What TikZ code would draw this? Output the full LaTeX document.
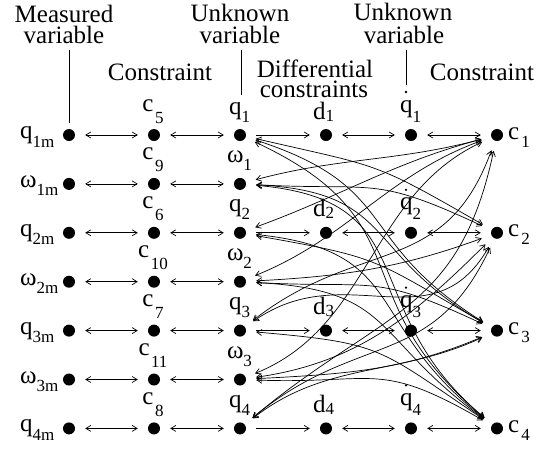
\documentclass[tikz,border=0pt]{standalone}
\usepackage{fontspec}
\setmainfont{Liberation Serif}
\usetikzlibrary{arrows.meta}
\newcommand{\mylab}[4]{#1\hspace{#3}\raisebox{-#2}{\fontsize{17}{17}\selectfont #4}}
\begin{document}
\begin{tikzpicture}[x=1pt,y=1pt,
  >={Straight Barb[length=5pt,width=6pt]},
  dot/.style={circle,fill=black,inner sep=0pt,minimum size=12pt},
  lab/.style={inner sep=0pt,font=\fontsize{25}{25}\selectfont},
  hdr/.style={inner sep=0pt,font=\fontsize{25}{20}\selectfont,anchor=base},
  rule/.style={line width=0.7pt},
  link/.style={line width=0.7pt,<->,shorten <=10pt,shorten >=10pt},
  down/.style={link,looseness=1.35},
  one/.style={line width=0.7pt,->,shorten <=10pt,shorten >=10pt}]
\useasboundingbox (0,0) rectangle (549,-448);

% headers
\node[hdr] (hm1) at (64,-22) {Measured};
\node[hdr] (hm2) at (64,-43) {variable};
\node[hdr] (hu1) at (240,-21) {Unknown};
\node[hdr] (hu2) at (240,-43) {variable};
\node[hdr] (hc1) at (160,-80) {Constraint};
\node[hdr] (hd1) at (315,-77) {Differential};
\node[hdr] (hd2) at (314,-97) {constraints};
\node[hdr] (hv1) at (403,-20) {Unknown};
\node[hdr] (hv2) at (404,-43) {variable};
\node[hdr] (hc2) at (482,-80) {Constraint};

% column 0: measured
\foreach \n/\r in {mq1/0, mw1/1, mq2/2, mw2/3, mq3/4, mw3/5, mq4/6}{
  \pgfmathsetmacro\yy{135+48.9*\r}
  \node[dot] (\n) at (69,-\yy) {};
}
\foreach \n/\r/\t/\s in {mq1/0/q/1m, mw1/1/ω/1m, mq2/2/q/2m, mw2/3/ω/2m, mq3/4/q/3m, mw3/5/ω/3m, mq4/6/q/4m}{
  \pgfmathsetmacro\yy{135+48.9*\r+3.5}
  \node[lab,anchor=base west] (l\n) at (20,-\yy) {\mylab{\t}{8.5pt}{0pt}{\s}};
}
% column 1: constraints c5..c11
\foreach \n/\r/\s in {k5/0/5, k9/1/9, k6/2/6, k10/3/10, k7/4/7, k11/5/11, k8/6/8}{
  \pgfmathsetmacro\yy{135+48.9*\r}
  \pgfmathsetmacro\yl{135+48.9*\r-24}
  \node[dot] (\n) at (154,-\yy) {};
  \node[lab,anchor=base] (l\n) at (153,-\yl) {\mylab{c}{12pt}{1.5pt}{\s}};
}
% column 2: unknown variables
\foreach \n/\r/\t/\s in {q1/0/q/1, w1/1/ω/1, q2/2/q/2, w2/3/ω/2, q3/4/q/3, w3/5/ω/3, q4/6/q/4}{
  \pgfmathsetmacro\yy{135+48.9*\r}
  \pgfmathsetmacro\yl{135+48.9*\r-21}
  \node[dot] (\n) at (240,-\yy) {};
  \node[lab,anchor=base] (l\n) at (239.5,-\yl) {\mylab{\t}{8pt}{0pt}{\s}};
}
% columns 3,4,5
\foreach \i/\r in {1/0, 2/2, 3/4, 4/6}{
  \pgfmathsetmacro\yy{135+48.9*\r}
  \pgfmathsetmacro\yd{135+48.9*\r-16}
  \pgfmathsetmacro\yq{135+48.9*\r-23}
  \pgfmathsetmacro\yp{135+48.9*\r-43}
  \pgfmathsetmacro\yc{135+48.9*\r+4}
  \node[dot] (d\i) at (326,-\yy) {};
  \node[dot] (qd\i) at (411,-\yy) {};
  \node[dot] (c\i) at (497,-\yy) {};
  \node[lab,anchor=base west] (ld\i) at (313,-\yd) {\mylab{d}{2pt}{0pt}{\i}};
  \node[lab,anchor=base west] (lqd\i) at (400,-\yq) {\mylab{q}{10pt}{0pt}{\i}};
  \fill (406,-\yp) circle (1.3pt);
  \node[lab,anchor=base west] (lc\i) at (508,-\yc) {\mylab{c}{8pt}{2pt}{\i}};
}

% header rules
\coordinate (v1) at (69,-50);
\coordinate (v2a) at (241,-50);
\coordinate (v2b) at (241,-95);
\coordinate (v3a) at (406,-50);
\coordinate (v3b) at (406,-85);
\draw[rule,shorten >=6pt] (v1) -- (mq1);
\draw[rule] (v2a) -- (v2b);
\draw[rule] (v3a) -- (v3b);

% horizontal links
\foreach \a/\b/\c in {mq1/k5/q1, mw1/k9/w1, mq2/k6/q2, mw2/k10/w2, mq3/k7/q3, mw3/k11/w3, mq4/k8/q4}{
  \draw[link] (\a) -- (\b);
  \draw[link] (\b) -- (\c);
}
\foreach \i in {1,2,3,4}{
  \draw[one] (q\i) -- (d\i);
  \draw[link] (d\i) -- (qd\i);
  \draw[link] (qd\i) -- (c\i);
}

% constraint links c1
\draw[link] (w1) to[out=15,in=-165] (c1);
\draw[link] (q2) to[out=20,in=-165] (c1);
\draw[link] (w2) to[out=22,in=-160] (c1);
\draw[link] (w3) to[out=22,in=-155] (c1);
\draw[link,looseness=1.2] (q3) to[out=38,in=-110] (c1);
\draw[link,looseness=1.2] (q4) to[out=40,in=-102] (c1);
% c2
\draw[down] (q1) to[out=-13,in=150] (c2);
\draw[down] (w1) to[out=-3,in=155] (c2);
\draw[link] (w2) to[out=3,in=-160] (c2);
\draw[link] (w3) to[out=8,in=-135] (c2);
\draw[link,looseness=1.2] (q3) to[out=35,in=-120] (c2);
\draw[link,looseness=1.2] (q4) to[out=40,in=-115] (c2);
% c3
\draw[down] (q1) to[out=-18,in=148] (c3);
\draw[down] (w1) to[out=-3,in=150] (c3);
\draw[down] (q2) to[out=-10,in=150] (c3);
\draw[down] (w2) to[out=-3,in=155] (c3);
\draw[link] (w3) to[out=3,in=-157] (c3);
\draw[link] (q4) to[out=38,in=-155] (c3);
% c4
\draw[down] (q1) to[out=-25,in=140] (c4);
\draw[down] (w1) to[out=-5,in=140] (c4);
\draw[down] (q2) to[out=-6,in=142] (c4);
\draw[down] (w2) to[out=-3,in=144] (c4);
\draw[down] (q3) to[out=-5,in=146] (c4);
\draw[down] (w3) to[out=-2,in=150] (c4);
\end{tikzpicture}
\end{document}
